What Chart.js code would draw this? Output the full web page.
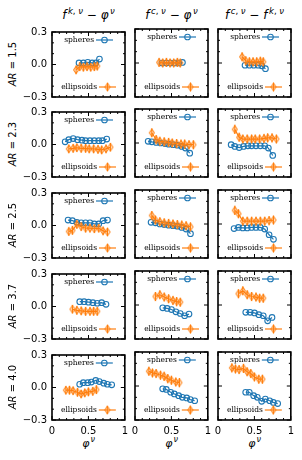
<!DOCTYPE html>
<html>
<head>
<meta charset="utf-8">
<script src="https://cdn.jsdelivr.net/npm/chart.js@4.4.0/dist/chart.umd.min.js"></script>
<style>
  body { margin: 0; background: #fff; }
  #fig { position: relative; width: 302px; height: 460px; overflow: hidden;
         font-family: "DejaVu Sans", sans-serif; color: #000; }
  #fig canvas { position: absolute; }
  .ttl { position: absolute; top: 8px; width: 100px; margin-left: -50px; text-align: center;
         font-size: 12px; line-height: 14px; white-space: nowrap; }
  .ttl sup { font-size: 8.5px; vertical-align: 5px; line-height: 0; margin-left: 1.5px; }
  .rl { position: absolute; font-size: 10px; white-space: nowrap;
        transform: translate(-50%, -50%) rotate(-90deg); }
  .xl { position: absolute; top: 437px; width: 40px; margin-left: -20px; text-align: center;
        font-size: 11px; line-height: 14px; }
  .xl sup { font-size: 8px; vertical-align: 5px; line-height: 0; margin-left: 1px; }
</style>
</head>
<body>
<div id="fig"></div>
<script>
// aspect ratios (one row each)
const aspectRatios = ["1.5", "2.3", "2.5", "3.7", "4.0"];

// packing fractions per row
const phiSpheres = [
  [0.37, 0.43, 0.49, 0.55, 0.60, 0.65],
  [0.18, 0.23, 0.29, 0.35, 0.41, 0.46, 0.52, 0.58, 0.64, 0.69, 0.75],
  [0.22, 0.28, 0.34, 0.40, 0.46, 0.52, 0.58, 0.64, 0.70, 0.76],
  [0.38, 0.44, 0.50, 0.56, 0.62, 0.68, 0.74],
  [0.38, 0.43, 0.49, 0.54, 0.60, 0.65, 0.71, 0.76, 0.82]
];
const phiEllipsoids = [
  [0.33, 0.38, 0.43, 0.48, 0.53, 0.58, 0.62],
  [0.23, 0.29, 0.34, 0.40, 0.46, 0.51, 0.57, 0.63, 0.68, 0.74, 0.80],
  [0.23, 0.28, 0.34, 0.40, 0.46, 0.52, 0.58, 0.64, 0.70, 0.76],
  [0.28, 0.34, 0.40, 0.46, 0.52, 0.57, 0.62],
  [0.19, 0.24, 0.29, 0.35, 0.40, 0.45, 0.50, 0.56, 0.61]
];

// column 1: f^{k,v} - phi^v
const kMinusPhiSph = [
  [0.015, 0.015, 0.02, 0.015, 0.015, 0.05],
  [0.025, 0.045, 0.055, 0.045, 0.04, 0.035, 0.035, 0.035, 0.035, 0.035, 0.05],
  [0.05, 0.045, 0.03, 0.025, 0.025, 0.025, 0.015, 0.015, 0.045, 0.05],
  [0.045, 0.045, 0.04, 0.035, 0.03, 0.035, 0.02],
  [0.03, 0.045, 0.045, 0.05, 0.065, 0.055, 0.04, 0.03, 0.025]
];
const kMinusPhiEll = [
  [-0.05, -0.02, -0.025, -0.02, -0.025, -0.02, -0.015],
  [-0.04, -0.035, -0.03, -0.035, -0.035, -0.04, -0.04, -0.045, -0.05, -0.04, -0.025],
  [-0.055, -0.045, 0.01, -0.01, -0.025, -0.025, -0.03, -0.025, -0.05, -0.06],
  [-0.025, -0.035, -0.04, -0.045, -0.045, -0.045, -0.045],
  [-0.025, -0.025, -0.03, -0.045, -0.06, -0.05, -0.04, -0.035, -0.02]
];

// column 2: f^{c,v} - phi^v
const cMinusPhiSph = [
  [0.0, 0.0, 0.0, 0.0, 0.0, 0.005],
  [0.015, 0.01, 0.005, 0.0, -0.005, -0.01, -0.015, -0.02, -0.03, -0.045, -0.09],
  [0.015, 0.01, 0.0, -0.005, -0.01, -0.015, -0.02, -0.03, -0.045, -0.085],
  [-0.025, -0.03, -0.04, -0.06, -0.075, -0.095, -0.08],
  [-0.025, -0.03, -0.055, -0.07, -0.085, -0.1, -0.105, -0.12, -0.13]
];
const cMinusPhiEll = [
  [0.005, 0.0, 0.005, 0.0, 0.0, 0.005, 0.0],
  [0.09, 0.03, 0.015, 0.01, 0.005, 0.0, -0.005, -0.01, -0.01, -0.015, -0.015],
  [0.075, 0.035, 0.02, 0.01, 0.005, 0.0, -0.005, -0.01, -0.015, -0.025],
  [0.075, 0.09, 0.07, 0.055, 0.04, 0.03, 0.025],
  [0.13, 0.115, 0.11, 0.095, 0.085, 0.065, 0.05, 0.035, 0.03]
];

// column 3: f^{c,v} - f^{k,v}
const cMinusKSph = [
  [-0.02, -0.02, -0.02, -0.02, -0.025, -0.05],
  [-0.015, -0.03, -0.04, -0.03, -0.025, -0.025, -0.025, -0.025, -0.025, -0.045, -0.11],
  [-0.04, -0.03, -0.035, -0.035, -0.03, -0.03, -0.03, -0.045, -0.095, -0.135],
  [-0.065, -0.065, -0.07, -0.085, -0.095, -0.14, -0.11],
  [-0.055, -0.055, -0.085, -0.1, -0.135, -0.115, -0.13, -0.145, -0.155]
];
const cMinusKEll = [
  [0.055, 0.02, 0.01, 0.01, 0.01, 0.015, 0.01],
  [0.12, 0.05, 0.035, 0.035, 0.035, 0.035, 0.035, 0.04, 0.045, 0.045, 0.035],
  [0.12, 0.09, 0.025, 0.025, 0.025, 0.025, 0.025, 0.025, 0.03, 0.035],
  [0.1, 0.125, 0.09, 0.075, 0.07, 0.06, 0.06],
  [0.16, 0.15, 0.145, 0.155, 0.125, 0.11, 0.08, 0.06, 0.06]
];

const ellError = 0.04;   // error bar half-height for ellipsoids

const xTicks = [0, 0.5, 1];
const yTicks = [-0.3, 0, 0.3];

const colTitles = [
  '<i>f</i><sup><i>k</i>, <i>ν</i></sup> − <i>φ</i><sup><i>ν</i></sup>',
  '<i>f</i><sup><i>c</i>, <i>ν</i></sup> − <i>φ</i><sup><i>ν</i></sup>',
  '<i>f</i><sup><i>c</i>, <i>ν</i></sup> − <i>f</i><sup><i>k</i>, <i>ν</i></sup>'
];
const sphCols = [kMinusPhiSph, cMinusPhiSph, cMinusKSph];
const ellCols = [kMinusPhiEll, cMinusPhiEll, cMinusKEll];

const BLUE = "#1f77b4";
const ORANGE = "#ff7f0e";

// layout of plot areas
const colLeft = [52, 135, 218];
const rowTop = [29, 109, 190, 271, 352];
const PW = 73, PH = 68;
const PADL = 45, PADT = 8, PADR = 8, PADB = 22;

// thin diamond marker
const diamond = document.createElement("canvas");
diamond.width = 8; diamond.height = 10;
(function () {
  const c = diamond.getContext("2d");
  c.strokeStyle = ORANGE;
  c.lineWidth = 1.1;
  c.beginPath();
  c.moveTo(4, 1.4); c.lineTo(6.4, 5); c.lineTo(4, 8.6); c.lineTo(1.6, 5); c.closePath();
  c.stroke();
})();

// error bars under the ellipsoid markers
const errorBars = {
  id: "errorBars",
  beforeDatasetDraw(chart, args) {
    const ds = chart.data.datasets[args.index];
    if (!ds.errBar) return;
    const { ctx, scales: { x, y } } = chart;
    ctx.save();
    ctx.strokeStyle = ORANGE;
    ctx.lineWidth = 1.1;
    ds.data.forEach(p => {
      const px = x.getPixelForValue(p.x);
      ctx.beginPath();
      ctx.moveTo(px, y.getPixelForValue(p.y - ds.errBar));
      ctx.lineTo(px, y.getPixelForValue(p.y + ds.errBar));
      ctx.stroke();
    });
    ctx.restore();
  }
};

// box with inward ticks on all sides
const frameTicks = {
  id: "frameTicks",
  afterDraw(chart) {
    const { ctx, chartArea: a, scales: { x, y } } = chart;
    ctx.save();
    ctx.strokeStyle = "#000";
    ctx.lineWidth = 1;
    const seg = (x1, y1, x2, y2) => { ctx.beginPath(); ctx.moveTo(x1, y1); ctx.lineTo(x2, y2); ctx.stroke(); };
    for (let i = 0; i <= 10; i++) {
      const px = x.getPixelForValue(i / 10);
      const len = i % 5 === 0 ? 4 : 2;
      seg(px, a.bottom, px, a.bottom - len);
      seg(px, a.top, px, a.top + len);
    }
    for (let i = -3; i <= 3; i++) {
      const py = y.getPixelForValue(i / 10);
      const len = i % 3 === 0 ? 4 : 2;
      seg(a.left, py, a.left + len, py);
      seg(a.right, py, a.right - len, py);
    }
    ctx.lineWidth = 1.6;
    ctx.strokeRect(a.left, a.top, a.right - a.left, a.bottom - a.top);
    ctx.restore();
  }
};

// two small legends: spheres top right, ellipsoids bottom right
const cornerLegends = {
  id: "cornerLegends",
  afterDraw(chart) {
    const { ctx, chartArea: a } = chart;
    ctx.save();
    ctx.font = '7.5px "DejaVu Serif", serif';
    ctx.fillStyle = "#000";
    ctx.textAlign = "right";
    ctx.textBaseline = "middle";
    ctx.lineWidth = 1.2;

    let yy = a.top + 8;
    ctx.fillText("spheres", a.right - 31, yy + 0.5);
    ctx.strokeStyle = BLUE;
    ctx.beginPath(); ctx.moveTo(a.right - 29, yy); ctx.lineTo(a.right - 12, yy); ctx.stroke();
    ctx.lineWidth = 1.1;
    ctx.beginPath(); ctx.arc(a.right - 20.5, yy, 2.8, 0, Math.PI * 2); ctx.stroke();

    yy = a.bottom - 10;
    ctx.fillText("ellipsoids", a.right - 28, yy + 0.5);
    ctx.strokeStyle = ORANGE;
    ctx.lineWidth = 1.2;
    ctx.beginPath(); ctx.moveTo(a.right - 26, yy); ctx.lineTo(a.right - 9, yy); ctx.stroke();
    ctx.lineWidth = 1.1;
    const e = ellErrorPx(chart);
    ctx.beginPath(); ctx.moveTo(a.right - 17.5, yy - e); ctx.lineTo(a.right - 17.5, yy + e); ctx.stroke();
    ctx.drawImage(diamond, a.right - 17.5 - diamond.width / 2, yy - diamond.height / 2);
    ctx.restore();
  }
};
function ellErrorPx(chart) {
  const y = chart.scales.y;
  return Math.abs(y.getPixelForValue(ellError) - y.getPixelForValue(0));
}

const tickFont = { family: "DejaVu Sans", size: 10 };
const fmtY = v => (v < 0 ? "\u2212" : "") + Math.abs(v).toFixed(1);
const fmtX = v => String(v);

const fig = document.getElementById("fig");

colTitles.forEach((t, c) => {
  const d = document.createElement("div");
  d.className = "ttl";
  d.style.left = (colLeft[c] + PW / 2) + "px";
  d.innerHTML = t;
  fig.appendChild(d);
  const xl = document.createElement("div");
  xl.className = "xl";
  xl.style.left = (colLeft[c] + PW / 2) + "px";
  xl.innerHTML = '<i>φ</i><sup><i>ν</i></sup>';
  fig.appendChild(xl);
});

aspectRatios.forEach((ar, r) => {
  const d = document.createElement("div");
  d.className = "rl";
  d.style.left = "12px";
  d.style.top = (rowTop[r] + 35) + "px";
  d.innerHTML = "<i>AR</i> = " + ar;
  fig.appendChild(d);

  for (let c = 0; c < 3; c++) {
    const cv = document.createElement("canvas");
    cv.width = PADL + PW + PADR;
    cv.height = PADT + PH + PADB;
    cv.style.left = (colLeft[c] - PADL) + "px";
    cv.style.top = (rowTop[r] - PADT) + "px";
    fig.appendChild(cv);

    const sph = phiSpheres[r].map((x, i) => ({ x, y: sphCols[c][r][i] }));
    const ell = phiEllipsoids[r].map((x, i) => ({ x, y: ellCols[c][r][i] }));

    new Chart(cv, {
      type: "line",
      data: {
        datasets: [
          {
            label: "ellipsoids",
            data: ell,
            errBar: ellError,
            borderColor: ORANGE,
            borderWidth: 1.2,
            pointStyle: diamond,
            pointRadius: 3,
            order: 0
          },
          {
            label: "spheres",
            data: sph,
            borderColor: BLUE,
            borderWidth: 1.2,
            pointStyle: "circle",
            pointRadius: 2.8,
            pointBorderWidth: 1.1,
            pointBorderColor: BLUE,
            pointBackgroundColor: "rgba(0,0,0,0)",
            order: 1
          }
        ]
      },
      options: {
        responsive: false,
        animation: false,
        events: [],
        layout: { padding: { top: PADT, right: PADR, left: 0, bottom: 0 } },
        plugins: { legend: { display: false }, tooltip: { enabled: false } },
        scales: {
          x: {
            type: "linear", min: 0, max: 1,
            grid: { display: false, drawTicks: false },
            border: { display: false },
            afterBuildTicks: s => { s.ticks = xTicks.map(v => ({ value: v })); },
            afterFit: s => { s.height = PADB; },
            ticks: { display: r === 4, padding: 5, font: tickFont, color: "#000",
                     maxRotation: 0, autoSkip: false, callback: fmtX }
          },
          y: {
            type: "linear", min: -0.3, max: 0.3,
            grid: { display: false, drawTicks: false },
            border: { display: false },
            afterBuildTicks: s => { s.ticks = yTicks.map(v => ({ value: v })); },
            afterFit: s => { s.width = PADL; },
            ticks: { display: c === 0, padding: 5, font: tickFont, color: "#000",
                     autoSkip: false, callback: fmtY }
          }
        }
      },
      plugins: [errorBars, frameTicks, cornerLegends]
    });
  }
});
</script>
</body>
</html>
